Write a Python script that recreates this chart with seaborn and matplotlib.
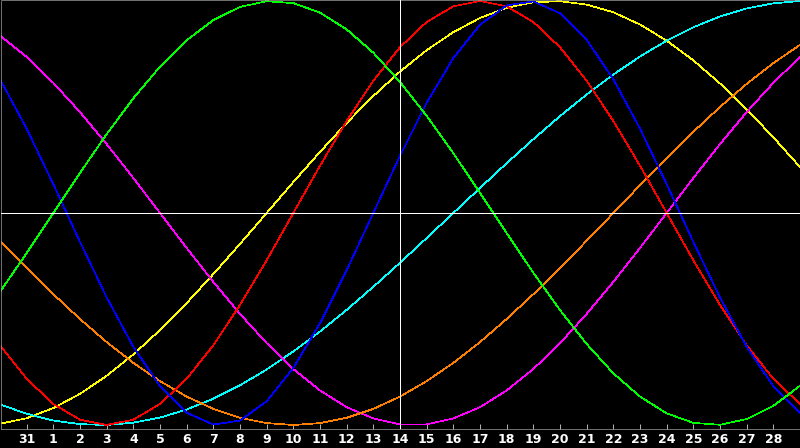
import matplotlib
matplotlib.use("Agg")
import matplotlib.pyplot as plt
import seaborn as sns
import pandas as pd

# day labels (index 0 = Jan 30, index 30 = Mar 1)
day_index = list(range(31))
tick_pos = list(range(1, 30))
tick_labels = ["31"] + [str(d) for d in range(1, 29)]

physical = [0.631, 0.398, 0.136, -0.136, -0.398, -0.631, -0.817, -0.942, -0.998, -0.979,
            -0.888, -0.731, -0.520, -0.270, 0.0, 0.270, 0.520, 0.731, 0.888, 0.979,
            0.998, 0.942, 0.817, 0.631, 0.398, 0.136, -0.136, -0.398, -0.631, -0.817, -0.942]
emotional = [-0.624, -0.782, -0.901, -0.975, -1.0, -0.975, -0.901, -0.782, -0.624, -0.434,
             -0.223, 0.0, 0.223, 0.434, 0.624, 0.782, 0.901, 0.975, 1.0, 0.975,
             0.901, 0.782, 0.624, 0.434, 0.223, 0.0, -0.223, -0.434, -0.624, -0.782, -0.901]
intellectual = [-0.372, -0.189, 0.0, 0.189, 0.372, 0.541, 0.690, 0.815, 0.910, 0.972,
                0.999, 0.990, 0.945, 0.866, 0.756, 0.618, 0.458, 0.282, 0.095, -0.095,
                -0.282, -0.458, -0.618, -0.756, -0.866, -0.945, -0.990, -0.999, -0.972, -0.910, -0.815]
intuitive = [0.837, 0.736, 0.614, 0.476, 0.325, 0.165, 0.0, -0.165, -0.325, -0.476,
             -0.614, -0.736, -0.837, -0.916, -0.969, -0.997, -0.997, -0.969, -0.916, -0.837,
             -0.736, -0.614, -0.476, -0.325, -0.165, 0.0, 0.165, 0.325, 0.476, 0.614, 0.736]
aesthetic = [-0.994, -0.968, -0.920, -0.853, -0.768, -0.667, -0.552, -0.425, -0.288, -0.146,
             0.0, 0.146, 0.288, 0.425, 0.552, 0.667, 0.768, 0.853, 0.920, 0.968,
             0.994, 0.999, 0.983, 0.947, 0.889, 0.813, 0.720, 0.611, 0.489, 0.357, 0.217]
awareness = [-0.131, -0.259, -0.383, -0.500, -0.609, -0.707, -0.793, -0.866, -0.924, -0.966,
             -0.991, -1.0, -0.991, -0.966, -0.924, -0.866, -0.793, -0.707, -0.609, -0.500,
             -0.383, -0.259, -0.131, 0.0, 0.131, 0.259, 0.383, 0.500, 0.609, 0.707, 0.793]
spiritual = [-0.903, -0.947, -0.979, -0.996, -1.0, -0.989, -0.965, -0.927, -0.876, -0.813,
             -0.738, -0.653, -0.559, -0.457, -0.348, -0.235, -0.118, 0.0, 0.118, 0.235,
             0.348, 0.457, 0.559, 0.653, 0.738, 0.813, 0.876, 0.927, 0.965, 0.989, 1.0]

series = {
    "aesthetic": aesthetic,
    "spiritual": spiritual,
    "intuitive": intuitive,
    "awareness": awareness,
    "emotional": emotional,
    "physical": physical,
    "intellectual": intellectual,
}
colors = {
    "aesthetic": "#ffff00",
    "spiritual": "#00ffff",
    "intuitive": "#ff00ff",
    "awareness": "#ff8000",
    "physical": "#0000ff",
    "emotional": "#ff0000",
    "intellectual": "#00ff00",
}

rows = []
for name, vals in series.items():
    for d, v in zip(day_index, vals):
        rows.append({"day": d, "value": v, "cycle": name})
df = pd.DataFrame(rows)

sns.set_style("dark")
plt.rcParams["font.family"] = ["DejaVu Sans"]

fig = plt.figure(figsize=(8, 4.48), dpi=100, facecolor="black")
ax = fig.add_axes([0.5 / 800, (448 - 428.5) / 448, 799 / 800, 428 / 448])
ax.set_facecolor("black")

LW = 0.5
sns.lineplot(data=df, x="day", y="value", hue="cycle", palette=colors,
             hue_order=list(series.keys()), sort=False, estimator=None,
             legend=False, linewidth=LW, ax=ax)
for ln in ax.lines:
    ln.set_linewidth(LW)
    ln.set_antialiased(False)

ax.axhline(0, color="white", linewidth=LW, zorder=10, antialiased=False)
ax.axvline(15, color="white", linewidth=LW, zorder=10, antialiased=False)

ax.set_xlim(0.5 / 26.667, 30 - 0.5 / 26.667)
ax.set_ylim(-(428.5 - 213) / 212, (213 - 0.5) / 212)
ax.grid(False)
ax.set_xlabel("")
ax.set_ylabel("")
ax.set_yticks([])
ax.set_xticks(tick_pos)
ax.set_xticklabels(tick_labels, fontweight="bold", fontsize=9, color="white")
ax.tick_params(axis="x", direction="in", length=3.6, width=LW, color="white",
               pad=3.5, bottom=True)
for s in ax.spines.values():
    s.set_visible(True)
    s.set_color("#a0a0a0")
    s.set_linewidth(LW)

fig.savefig("out.png", dpi=100, facecolor="black")
